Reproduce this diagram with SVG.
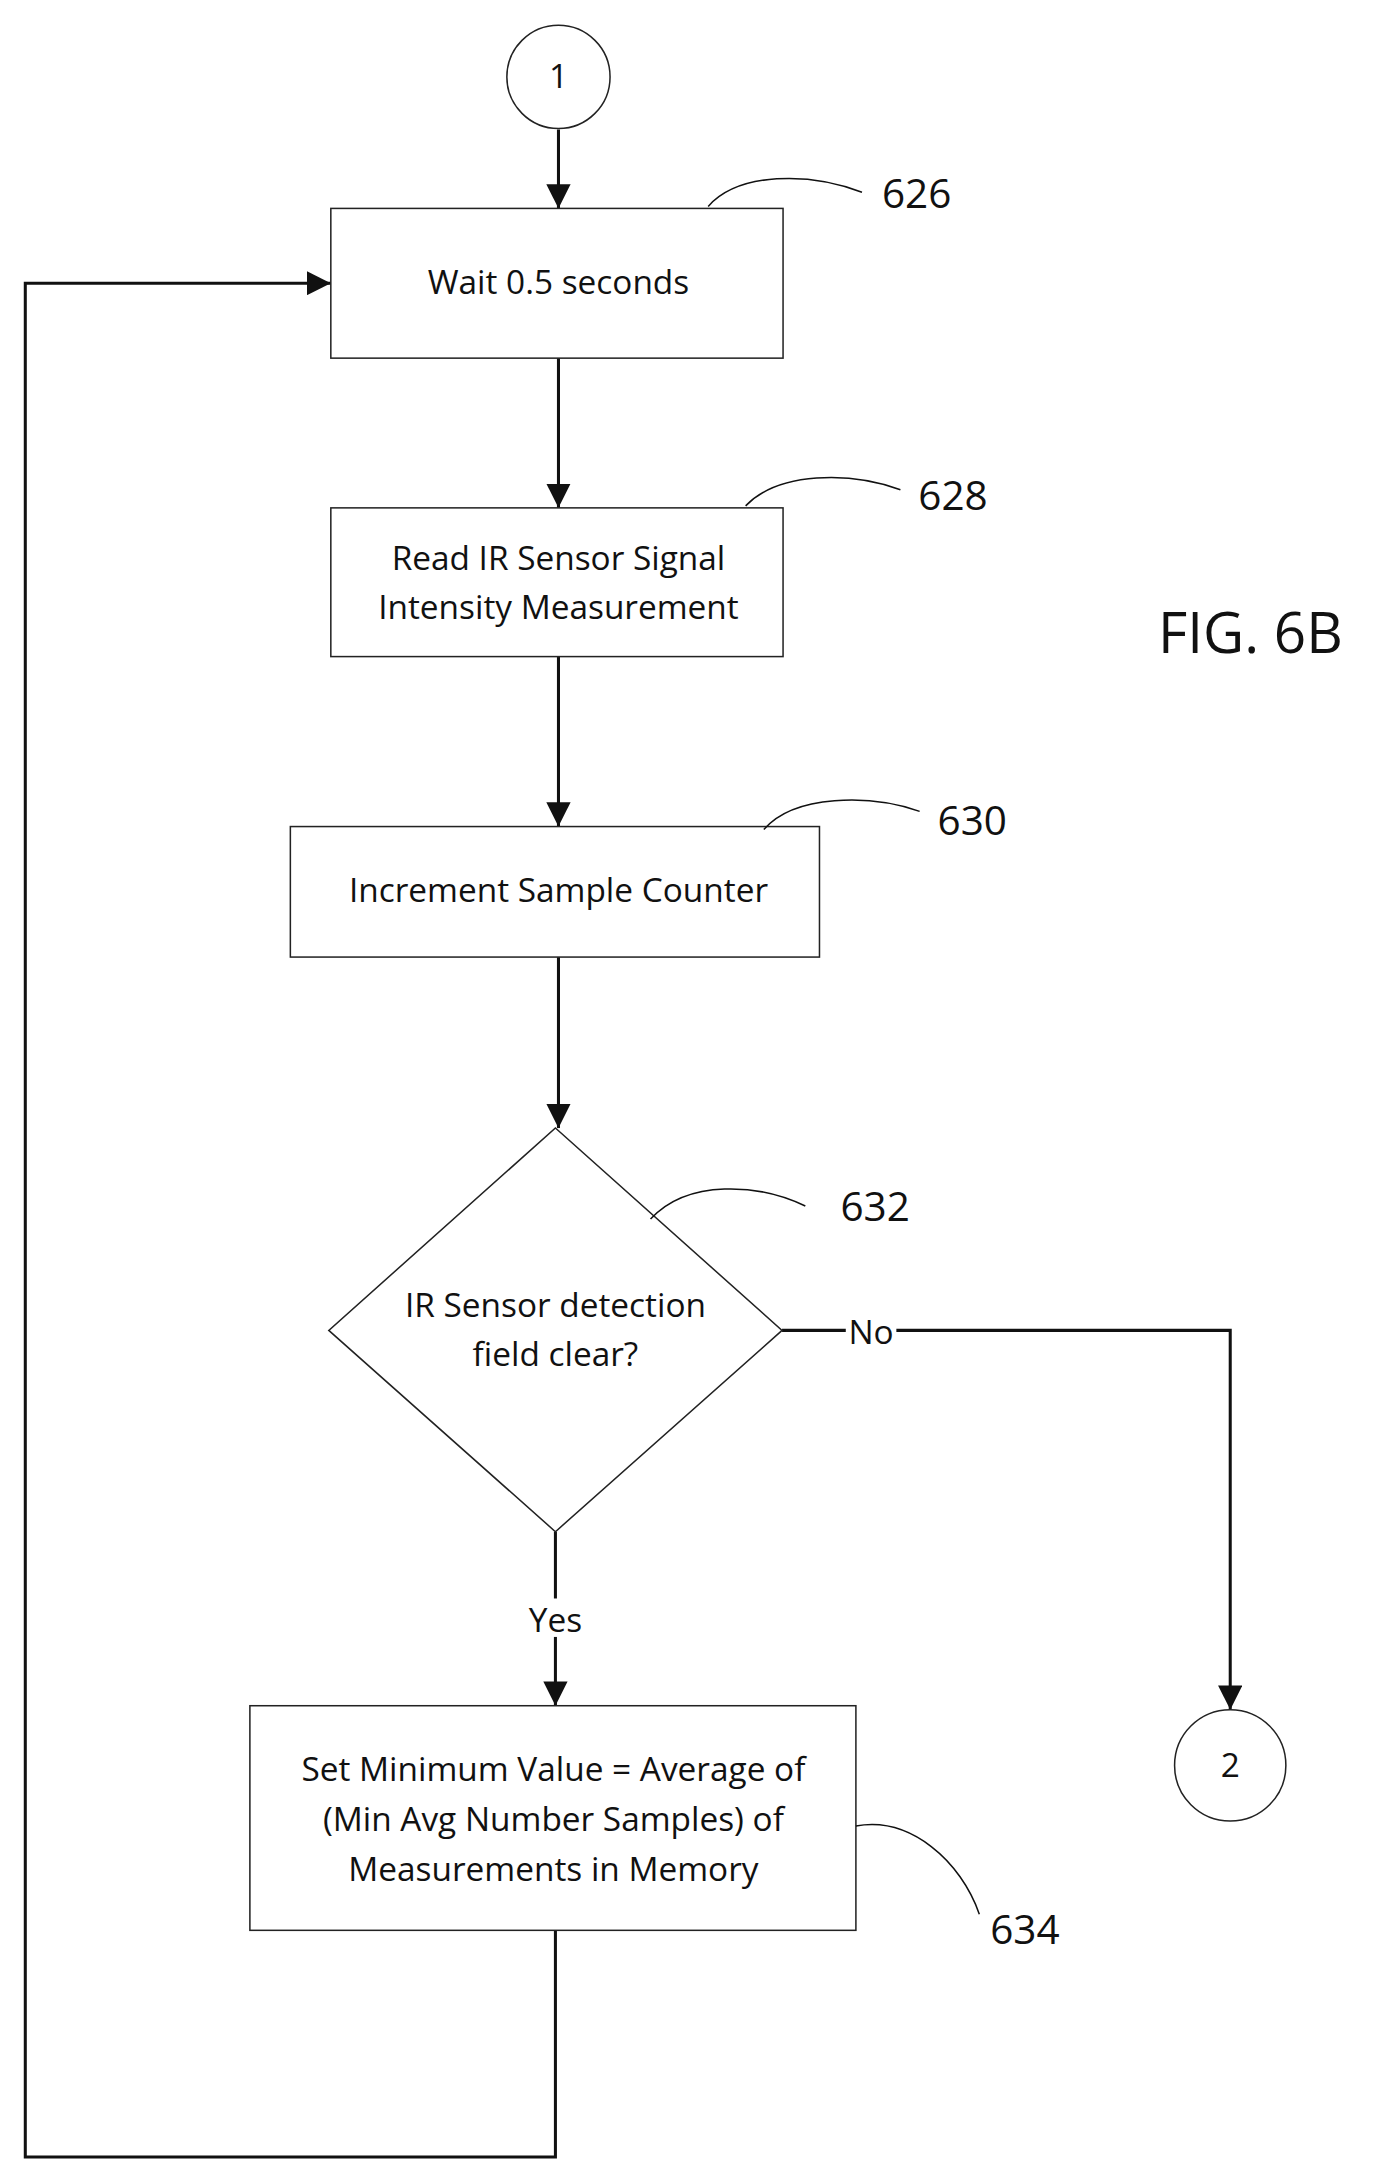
<svg xmlns="http://www.w3.org/2000/svg" width="1373" height="2175" viewBox="0 0 1373 2175">
<style>
.n{fill:#fff;stroke:#222;stroke-width:1.5}
.t{font-family:"Open Sans","Liberation Sans",sans-serif;font-size:33px;fill:#111;text-anchor:middle}
.l{font-family:"Open Sans","Liberation Sans",sans-serif;font-size:40px;fill:#111;text-anchor:middle}
.c{fill:none;stroke:#111;stroke-width:3}
.ld{fill:none;stroke:#111;stroke-width:1.5}
</style>
<defs>
<marker id="b" viewBox="0 0 10 10" refX="10" refY="5" markerWidth="8" markerHeight="8" orient="auto"><path d="M0,0L10,5L0,10z" fill="#111"/></marker></defs>
<g transform="scale(1.0117)">
<g id="connectors">
<path class="c" d="M552,128V206" marker-end="url(#b)"/>
<path class="c" d="M552,354V502" marker-end="url(#b)"/>
<path class="c" d="M552,649V817" marker-end="url(#b)"/>
<path class="c" d="M552,946V1115" marker-end="url(#b)"/>
<path class="c" d="M773,1315H1216V1690" marker-end="url(#b)"/>
<path class="c" d="M549,1514V1686" marker-end="url(#b)"/>
<path class="c" d="M549,1908V2132H25V280H327" marker-end="url(#b)"/>
<rect x="836" y="1297" width="50" height="38" fill="#fff"/>
<text class="t" x="861" y="1328">No</text>
<rect x="515" y="1580" width="68" height="38" fill="#fff"/>
<text class="t" x="549" y="1613">Yes</text>
</g>
<g id="c1"><circle class="n" cx="552" cy="76" r="51"/><text class="t" x="552" y="87">1</text></g>
<g id="n626"><rect class="n" x="327" y="206" width="447" height="148"/><text class="t" x="552" y="291">Wait 0.5 seconds</text>
<path class="ld" d="M700,204C730,170 800,170 852,190"/><text class="l" x="906" y="206">626</text></g>
<g id="n628"><rect class="n" x="327" y="502" width="447" height="147"/><text class="t" x="552" y="563">Read IR Sensor Signal</text><text class="t" x="552" y="612">Intensity Measurement</text>
<path class="ld" d="M737,500C770,466 840,466 890,484"/><text class="l" x="942" y="504">628</text></g>
<text class="l" x="1236" y="645" style="font-size:56px">FIG. 6B</text>
<g id="n630"><rect class="n" x="287" y="817" width="523" height="129"/><text class="t" x="552" y="892">Increment Sample Counter</text>
<path class="ld" d="M755,820C785,785 860,785 909,802"/><text class="l" x="961" y="825">630</text></g>
<g id="n632"><path class="n" d="M549,1115L773,1315L549,1514L325,1315Z"/><text class="t" x="549" y="1302">IR Sensor detection</text><text class="t" x="549" y="1350">field clear?</text>
<path class="ld" d="M643,1205C680,1165 750,1170 796,1192"/><text class="l" x="865" y="1207">632</text></g>
<g id="c2"><circle class="n" cx="1216" cy="1745" r="55"/><text class="t" x="1216" y="1756">2</text></g>
<g id="n634"><rect class="n" x="247" y="1686" width="599" height="222"/>
<text class="t" x="547" y="1760">Set Minimum Value = Average of</text>
<text class="t" x="547" y="1810">(Min Avg Number Samples) of</text>
<text class="t" x="547" y="1859">Measurements in Memory</text>
<path class="ld" d="M846,1805C900,1795 950,1840 968,1892"/><text class="l" x="1013" y="1922">634</text></g>
</g>
</svg>
